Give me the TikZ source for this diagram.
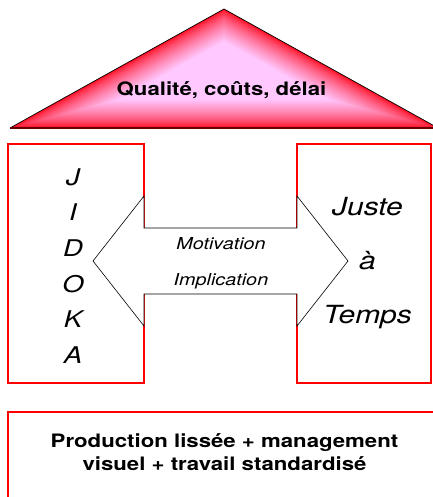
\documentclass[tikz,border=0pt]{standalone}
\usepackage{fontspec}
\setmainfont{TeX Gyre Heros}[FakeStretch=1.2]
\definecolor{roofpink}{RGB}{255,200,255}
\definecolor{roofred}{RGB}{255,10,30}

\begin{document}
\begin{tikzpicture}[x=1pt,y=1pt]
\tikzset{
  redbox/.style={draw=red, line width=1.5pt},
  boldtxt/.style={font=\fontsize{18.5}{23}\selectfont\bfseries, align=center},
}
\useasboundingbox (0,0) rectangle (432,497);

% toit : degrade qui suit la forme du triangle
\def\nsteps{30}
\foreach \i in {0,...,\nsteps}{
  \pgfmathsetmacro\f{1-0.017*\i}
  \pgfmathsetmacro\m{100*(\i/\nsteps)^0.7}
  \fill[roofpink!\m!roofred, shift={(224,424.5)}, scale=\f] (-214,-55.5) -- (0,63.5) -- (214,-55.5) -- cycle;
}
\draw[black, line width=0.7pt] (10,369) -- (224,488) -- (438,369);
\draw[line width=1.5pt, black!60!red] (10,369) -- (438,369);
\node[boldtxt, anchor=base] (toit) at (221.5,401) {Qualité, coûts, délai};

% piliers
\draw[redbox] (8,353) rectangle (144,114);
\draw[redbox] (297,353) rectangle (431,114);
\node[font=\fontsize{23}{35.6}\selectfont\itshape, align=center] (jidoka) at (73,231) {J\\I\\D\\O\\K\\A};
\node[font=\fontsize{25}{54}\selectfont\itshape, align=center] (jat) at (367.5,234.4) {Juste\\à\\Temps};

% fleche double
\filldraw[fill=white, draw=black, line width=0.6pt] (93,236) -- (144,301) -- (144,269) -- (297,269) -- (297,301) -- (348,236)
  -- (297,171) -- (297,203) -- (144,203) -- (144,171) -- cycle;
\node[font=\fontsize{16.5}{36}\selectfont\itshape, align=center] (motiv) at (221,233.3) {Motivation\\Implication};

% socle
\draw[redbox] (8,85) rectangle (440,-10);
\node[boldtxt] (socle) at (224.5,45) {Production lissée + management\\visuel + travail standardisé};
\end{tikzpicture}
\end{document}
